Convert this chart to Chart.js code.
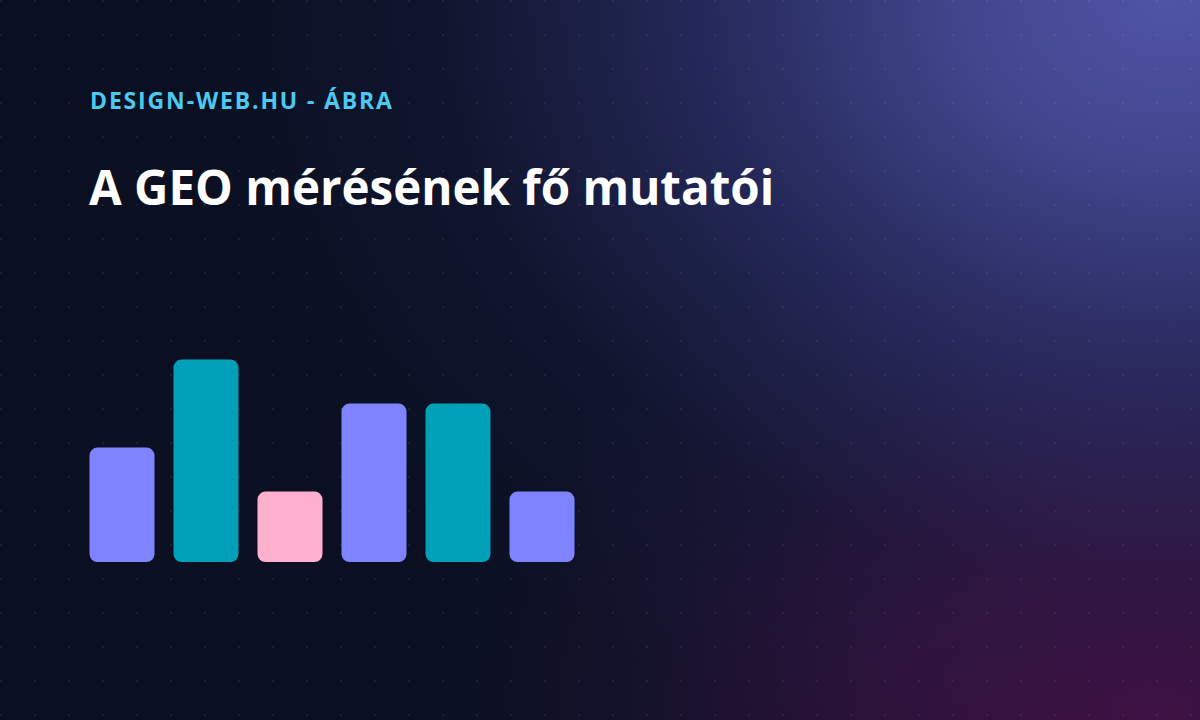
<!DOCTYPE html>
<html>
<head>
<meta charset="utf-8">
<script src="https://cdn.jsdelivr.net/npm/chart.js@4"></script>
<style>
  html, body { margin: 0; padding: 0; }
  body {
    width: 1200px; height: 720px; overflow: hidden; position: relative;
    font-family: "Open Sans", "Noto Sans", sans-serif;
    background:
      radial-gradient(circle at 1px 1px, rgba(255,255,255,0.07) 1px, transparent 1.5px) 0 0 / 34px 34px,
      radial-gradient(ellipse 980px 780px at 1170px 0px, rgba(80,84,166,1) 0%, rgba(74,78,158,0.85) 22%, rgba(58,60,132,0.55) 48%, rgba(34,38,88,0.2) 75%, rgba(10,16,34,0) 100%),
      radial-gradient(ellipse 720px 520px at 1150px 720px, rgba(64,16,66,1) 0%, rgba(56,18,64,0.8) 35%, rgba(40,20,60,0.35) 70%, rgba(10,16,34,0) 100%),
      #0a1022;
  }
  .kicker {
    position: absolute; left: 90px; top: 84px;
    color: #4cc9f0; font-weight: 700; font-size: 23px; letter-spacing: 1.85px;
  }
  h1 {
    position: absolute; left: 89px; top: 154px; margin: 0;
    color: #ffffff; font-weight: 700; font-size: 47.5px; letter-spacing: 0;
  }
  #wrap { position: absolute; left: 80px; top: 342px; width: 504px; height: 220px; }
</style>
</head>
<body>
<div class="kicker">DESIGN-WEB.HU - ÁBRA</div>
<h1>A GEO mérésének fő mutatói</h1>
<div id="wrap"><canvas id="geoChart"></canvas></div>
<script>
// DATA
const labels = ['1', '2', '3', '4', '5', '6'];
const values = [52, 92, 32, 72, 72, 32];
const colors = ['#8083ff', '#00a0b9', '#ffb0cd', '#8083ff', '#00a0b9', '#8083ff'];

// CHART
new Chart(document.getElementById('geoChart'), {
  type: 'bar',
  data: {
    labels: labels,
    datasets: [{
      data: values,
      backgroundColor: colors,
      borderRadius: 8,
      borderSkipped: false,
      categoryPercentage: 1,
      barPercentage: 0.774
    }]
  },
  options: {
    responsive: true,
    maintainAspectRatio: false,
    animation: false,
    layout: { padding: 0 },
    plugins: { legend: { display: false }, tooltip: { enabled: false } },
    scales: {
      x: { display: false },
      y: { display: false, min: 0, max: 100 }
    }
  }
});
</script>
</body>
</html>
